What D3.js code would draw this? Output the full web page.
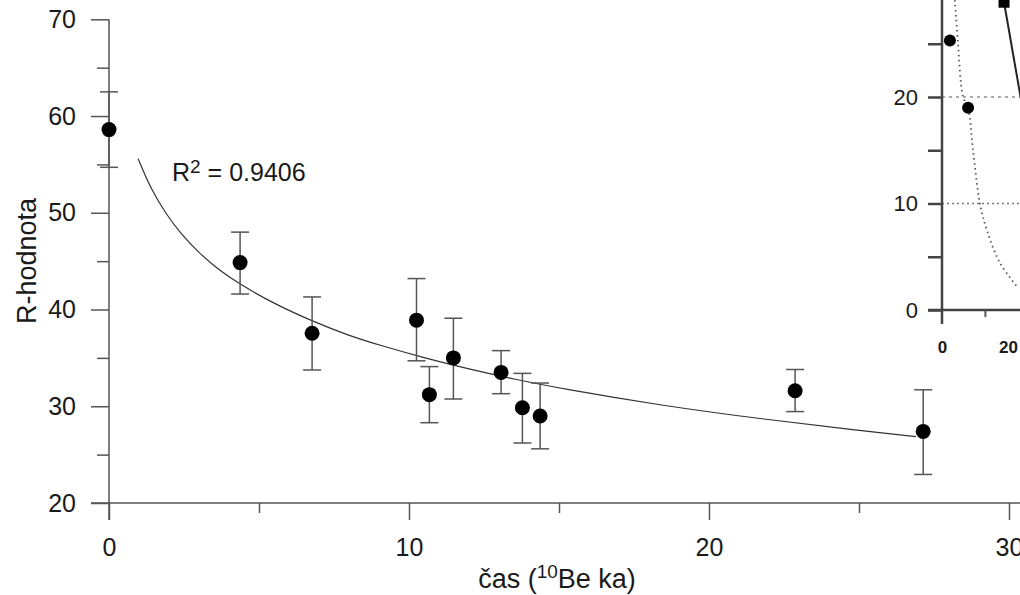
<!DOCTYPE html>
<html>
<head>
<meta charset="utf-8">
<script src="https://cdn.jsdelivr.net/npm/d3@7"></script>
<style>
  html, body { margin: 0; padding: 0; background: #fff; }
  svg { display: block; }
  text { font-family: "Liberation Sans", Arial, sans-serif; fill: #1a1a1a; }
</style>
</head>
<body>
<svg id="chart" width="1020" height="595"></svg>
<script>
// ---------- main chart data ----------
const ageKa   = [0, 4.37, 6.77, 10.25, 10.68, 11.48, 13.07, 13.78, 14.37, 22.87, 27.14];
const rValue  = [58.6, 44.85, 37.55, 38.9, 31.2, 35.0, 33.5, 29.85, 29.0, 31.6, 27.4];
const errHigh = [62.5, 48.0, 41.3, 43.2, 34.1, 39.1, 35.75, 33.4, 32.4, 33.8, 31.7];
const errLow  = [54.7, 41.6, 33.75, 34.7, 28.3, 30.75, 31.3, 26.2, 25.6, 29.45, 22.95];

// trend curve
const fitX = [0.97, 1.4, 1.92, 2.4, 3.03, 3.7, 4.37, 5.5, 6.77, 8.0, 9.03, 10.5, 12.0, 13.5, 15.03, 18.37, 21.7, 25.03, 26.9];
const fitY = [55.6, 52.4, 49.8, 47.8, 45.75, 44.0, 42.6, 40.6, 38.8, 37.3, 36.3, 35.0, 33.85, 32.8, 31.85, 30.1, 28.7, 27.5, 26.86];

const xMajorTicks = [0, 10, 20, 30];
const xMinorTicks = [5, 15, 25];
const yMajorTicks = [20, 30, 40, 50, 60, 70];
const yMinorTicks = [25, 35, 45, 55, 65];

// ---------- inset data ----------
const insetPtX = [2.4, 7.9];
const insetPtY = [25.3, 19.0];
const insetSqX = [18.8];
const insetSqY = [28.9];
const insetLineX = [18.8, 25.5];
const insetLineY = [28.9, 17.0];
const insetCurveX = [3.9, 4.8, 6.4, 7.9, 9.4, 11.5, 13.6, 17.6, 23.0];
const insetCurveY = [29.1, 25.3, 20.0, 19.0, 15.0, 10.0, 7.5, 4.4, 2.1];
const insetGridY = [20, 10];
const insetYTicks = [0, 5, 10, 15, 20, 25, 30];
const insetYLabels = [0, 10, 20, 30];
const insetXLabels = [0, 20];
const insetXMinor = [13];

const svg = d3.select("#chart");

// ---------- scales ----------
const x = d3.scaleLinear().domain([0, 30]).range([109, 1009]);
const y = d3.scaleLinear().domain([20, 70]).range([503, 19.3]);

const axisColor = "#555";
const FONT = "Liberation Sans, Arial, sans-serif";

// x axis line (extends left of y axis)
svg.append("line").attr("x1", 91).attr("x2", 1020).attr("y1", y(20)).attr("y2", y(20))
  .attr("stroke", axisColor).attr("stroke-width", 1.5);
// y axis line (extends below x axis)
svg.append("line").attr("x1", x(0)).attr("x2", x(0)).attr("y1", y(70)).attr("y2", 520)
  .attr("stroke", axisColor).attr("stroke-width", 1.5);

// x ticks
const gxMaj = svg.append("g").attr("transform", `translate(0,${y(20)})`)
  .call(d3.axisBottom(x).tickValues(xMajorTicks).tickSize(17).tickPadding(18).tickFormat(d3.format("d")));
gxMaj.select(".domain").remove();
gxMaj.selectAll("line").attr("stroke", axisColor).attr("stroke-width", 1.5);
gxMaj.selectAll("text").attr("font-size", 25).attr("fill", "#1a1a1a").attr("font-family", FONT);

const gxMin = svg.append("g").attr("transform", `translate(0,${y(20)})`)
  .call(d3.axisBottom(x).tickValues(xMinorTicks).tickSize(10).tickFormat(""));
gxMin.select(".domain").remove();
gxMin.selectAll("line").attr("stroke", axisColor).attr("stroke-width", 1.5);

// y ticks
const gyMaj = svg.append("g").attr("transform", `translate(${x(0)},0)`)
  .call(d3.axisLeft(y).tickValues(yMajorTicks).tickSize(18).tickPadding(15).tickFormat(d3.format("d")));
gyMaj.select(".domain").remove();
gyMaj.selectAll("line").attr("stroke", axisColor).attr("stroke-width", 1.5);
gyMaj.selectAll("text").attr("font-size", 25).attr("fill", "#1a1a1a").attr("font-family", FONT);

const gyMin = svg.append("g").attr("transform", `translate(${x(0)},0)`)
  .call(d3.axisLeft(y).tickValues(yMinorTicks).tickSize(12).tickFormat(""));
gyMin.select(".domain").remove();
gyMin.selectAll("line").attr("stroke", axisColor).attr("stroke-width", 1.5);

// axis titles
const xt = svg.append("text").attr("x", 557).attr("y", 588).attr("text-anchor", "middle")
  .attr("font-size", 27);
xt.append("tspan").text("čas (");
xt.append("tspan").attr("font-size", 19).attr("dy", -10).text("10");
xt.append("tspan").attr("dy", 10).text("Be ka)");

svg.append("text").attr("transform", "translate(36,261) rotate(-90)")
  .attr("text-anchor", "middle").attr("font-size", 27).text("R-hodnota");

// fit curve
const fitData = fitX.map((d, i) => [d, fitY[i]]);
svg.append("path").datum(fitData)
  .attr("d", d3.line().x(d => x(d[0])).y(d => y(d[1])).curve(d3.curveBasis))
  .attr("fill", "none").attr("stroke", "#333").attr("stroke-width", 1.2);

// R^2 label
const r2 = svg.append("text").attr("x", 172).attr("y", 181).attr("font-size", 25);
r2.append("tspan").text("R");
r2.append("tspan").attr("font-size", 19).attr("dy", -8).text("2");
r2.append("tspan").attr("dy", 8).text(" = 0.9406");

// error bars
const pts = ageKa.map((d, i) => ({ x: d, y: rValue[i], hi: errHigh[i], lo: errLow[i] }));
const eb = svg.append("g").attr("stroke", "#555").attr("stroke-width", 1.5);
pts.forEach(p => {
  eb.append("line").attr("x1", x(p.x)).attr("x2", x(p.x)).attr("y1", y(p.hi)).attr("y2", y(p.lo));
  eb.append("line").attr("x1", x(p.x) - 9).attr("x2", x(p.x) + 9).attr("y1", y(p.hi)).attr("y2", y(p.hi));
  eb.append("line").attr("x1", x(p.x) - 9).attr("x2", x(p.x) + 9).attr("y1", y(p.lo)).attr("y2", y(p.lo));
});

// points
svg.append("g").selectAll("circle").data(pts).join("circle")
  .attr("cx", d => x(d.x)).attr("cy", d => y(d.y)).attr("r", 7.5).attr("fill", "#000");

// ---------- inset ----------
const ix = d3.scaleLinear().domain([0, 20]).range([942, 1008]);
const iy = d3.scaleLinear().domain([0, 20]).range([310, 97]);
const inset = svg.append("g");

// gridlines
insetGridY.forEach((v, i) => {
  inset.append("line").attr("x1", ix(0)).attr("x2", 1020).attr("y1", iy(v)).attr("y2", iy(v))
    .attr("stroke", i === 0 ? "#aaa" : "#777").attr("stroke-width", i === 0 ? 2 : 1.3)
    .attr("stroke-dasharray", i === 0 ? "3,4" : "2,3");
});

// dotted curve
inset.append("path").datum(insetCurveX.map((d, i) => [d, insetCurveY[i]]))
  .attr("d", d3.line().x(d => ix(d[0])).y(d => iy(d[1])).curve(d3.curveCatmullRom))
  .attr("fill", "none").attr("stroke", "#555").attr("stroke-width", 1.8)
  .attr("stroke-dasharray", "1.5,3.5");

// solid line
inset.append("path").datum(insetLineX.map((d, i) => [d, insetLineY[i]]))
  .attr("d", d3.line().x(d => ix(d[0])).y(d => iy(d[1])))
  .attr("fill", "none").attr("stroke", "#222").attr("stroke-width", 2);

// axes
inset.append("line").attr("x1", 928).attr("x2", 1020).attr("y1", iy(0)).attr("y2", iy(0))
  .attr("stroke", "#444").attr("stroke-width", 2.5);
inset.append("line").attr("x1", ix(0)).attr("x2", ix(0)).attr("y1", -10).attr("y2", 324)
  .attr("stroke", "#444").attr("stroke-width", 2.5);

const giy = inset.append("g").attr("transform", `translate(${ix(0)},0)`)
  .call(d3.axisLeft(iy).tickValues(insetYTicks).tickSize(14).tickPadding(10)
    .tickFormat(d => insetYLabels.includes(d) ? d : ""));
giy.select(".domain").remove();
giy.selectAll("line").attr("stroke", "#444").attr("stroke-width", 2.5);
giy.selectAll("text").attr("font-size", 22).attr("fill", "#444").attr("font-family", FONT);

const gixm = inset.append("g").attr("transform", `translate(0,${iy(0)})`)
  .call(d3.axisBottom(ix).tickValues(insetXMinor).tickSize(7).tickFormat(""));
gixm.select(".domain").remove();
gixm.selectAll("line").attr("stroke", "#555").attr("stroke-width", 2);

const gixl = inset.append("g").attr("transform", `translate(0,${iy(0)})`)
  .call(d3.axisBottom(ix).tickValues(insetXLabels).tickSize(0).tickPadding(31).tickFormat(d3.format("d")));
gixl.select(".domain").remove();
gixl.selectAll("text").attr("font-size", 17).attr("font-weight", "bold").attr("fill", "#222")
  .attr("font-family", FONT);

// points
inset.append("g").selectAll("circle").data(insetPtX.map((d, i) => [d, insetPtY[i]])).join("circle")
  .attr("cx", d => ix(d[0])).attr("cy", d => iy(d[1])).attr("r", 6).attr("fill", "#000");
inset.append("g").selectAll("rect").data(insetSqX.map((d, i) => [d, insetSqY[i]])).join("rect")
  .attr("x", d => ix(d[0]) - 5.5).attr("y", d => iy(d[1]) - 5.5).attr("width", 11).attr("height", 11)
  .attr("fill", "#000");
</script>
</body>
</html>
